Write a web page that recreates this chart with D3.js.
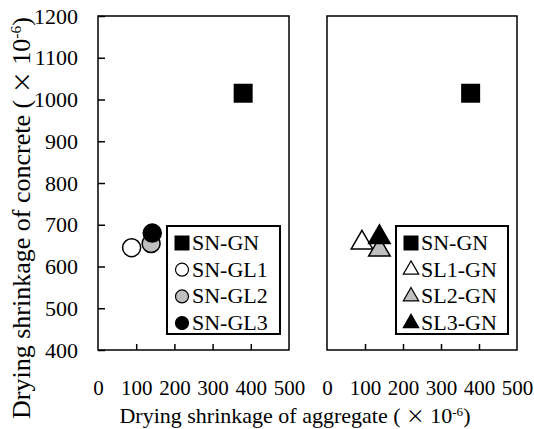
<!DOCTYPE html>
<html>
<head>
<meta charset="utf-8">
<script src="https://cdn.jsdelivr.net/npm/d3@7"></script>
<style>
  html, body { margin: 0; padding: 0; background: #fff; }
  svg { display: block; }
</style>
</head>
<body>
<svg id="chart" width="534" height="429"></svg>
<script>
// data
var xTicks = [0, 100, 200, 300, 400, 500],
    yTicks = [400, 500, 600, 700, 800, 900, 1000, 1100, 1200];

var leftNames = ['SN-GN', 'SN-GL1', 'SN-GL2', 'SN-GL3'],
    leftX = [380, 88, 139, 142],
    leftY = [1015, 645, 655, 680];

var rightNames = ['SN-GN', 'SL1-GN', 'SL2-GN', 'SL3-GN'],
    rightX = [378, 92, 138, 138],
    rightY = [1015, 657, 640, 670];

var SERIF = '"Liberation Serif", "Times New Roman", Times, serif';

var svg = d3.select('#chart'),
    plotTop = 16, plotBottom = 350;

var y = d3.scaleLinear().domain([400, 1200]).range([plotBottom, plotTop]);

// marker look per series
var leftStyle = [
  { shape: d3.symbolSquare, fill: '#000' },
  { shape: d3.symbolCircle, fill: '#fff' },
  { shape: d3.symbolCircle, fill: '#bfbfbf' },
  { shape: d3.symbolCircle, fill: '#000' }
];
var rightStyle = [
  { shape: d3.symbolSquare, fill: '#000' },
  { shape: d3.symbolTriangle, fill: '#fff' },
  { shape: d3.symbolTriangle, fill: '#bfbfbf' },
  { shape: d3.symbolTriangle, fill: '#000' }
];

function symSize(shape, s) {
  if (shape === d3.symbolSquare) return s * s;
  if (shape === d3.symbolCircle) return Math.PI * s * s / 4;
  return Math.sqrt(3) / 4 * s * s * 1.05;
}
function plotSide(shape) {
  return shape === d3.symbolSquare ? 19 : shape === d3.symbolCircle ? 18 : 21;
}
function legSide(shape) {
  return shape === d3.symbolSquare ? 15 : shape === d3.symbolCircle ? 13 : 15;
}

function panel(x0, x1, names, xs, ys, styles, leg) {
  var x = d3.scaleLinear().domain([0, 500]).range([x0, x1]);
  var g = svg.append('g');

  // x axis, ticks pointing in
  var xa = g.append('g')
    .attr('transform', 'translate(0,' + plotBottom + ')')
    .call(d3.axisBottom(x).tickValues(xTicks).tickFormat(d3.format('d'))
      .tickSizeInner(-6).tickSizeOuter(0).tickPadding(30));
  xa.select('.domain').remove();
  xa.selectAll('.tick line').attr('stroke', '#000').attr('stroke-width', 1.5)
    .filter(function(d) { return d === 0 || d === 500; }).remove();
  xa.selectAll('.tick text')
    .attr('fill', '#000').attr('font-family', SERIF).attr('font-size', 21);

  // frame
  g.append('rect')
    .attr('x', x0).attr('y', plotTop)
    .attr('width', x1 - x0).attr('height', plotBottom - plotTop)
    .attr('fill', 'none').attr('stroke', '#000').attr('stroke-width', 1.5);

  // points
  names.forEach(function(n, i) {
    var st = styles[i];
    g.append('path')
      .attr('d', d3.symbol().type(st.shape).size(symSize(st.shape, plotSide(st.shape)))())
      .attr('transform', 'translate(' + x(xs[i]) + ',' + y(ys[i]) + ')')
      .attr('fill', st.fill)
      .attr('stroke', st.shape === d3.symbolSquare ? 'none' : '#000')
      .attr('stroke-width', 1.5);
  });

  // legend
  var lg = g.append('g');
  lg.append('rect')
    .attr('x', leg.x).attr('y', leg.y)
    .attr('width', leg.w).attr('height', leg.h)
    .attr('fill', '#fff').attr('stroke', '#000').attr('stroke-width', 2);
  names.forEach(function(n, i) {
    var st = styles[i],
        base = leg.y + 24 + i * 26.7;
    lg.append('path')
      .attr('d', d3.symbol().type(st.shape).size(symSize(st.shape, legSide(st.shape)))())
      .attr('transform', 'translate(' + (leg.x + 15) + ',' + (base - 7) + ')')
      .attr('fill', st.fill)
      .attr('stroke', st.shape === d3.symbolSquare ? 'none' : '#000')
      .attr('stroke-width', 1.2);
    lg.append('text')
      .attr('x', leg.x + 25).attr('y', base)
      .attr('font-family', SERIF)
      .attr('font-size', 22)
      .text(n);
  });
  return x;
}

panel(98, 289, leftNames, leftX, leftY, leftStyle, { x: 167, y: 226, w: 113, h: 108 });
panel(327, 517, rightNames, rightX, rightY, rightStyle, { x: 396, y: 226, w: 112, h: 108 });

// y axis on the left panel only
var ya = svg.append('g')
  .attr('transform', 'translate(98,0)')
  .call(d3.axisLeft(y).tickValues(yTicks).tickFormat(d3.format('d'))
    .tickSizeInner(-7).tickSizeOuter(0).tickPadding(20));
ya.select('.domain').remove();
ya.selectAll('.tick line').attr('stroke', '#000').attr('stroke-width', 1.5);
ya.selectAll('.tick text')
  .attr('fill', '#000').attr('font-family', SERIF).attr('font-size', 22);

// axis titles
function title(sel, label) {
  sel.append('tspan').text(label + '( ');
  sel.append('tspan').attr('font-family', '"Noto Sans CJK JP", sans-serif').attr('font-size', '0.85em').text('×');
  sel.append('tspan').text(' 10');
  sel.append('tspan').attr('font-size', '0.6em').attr('dy', '-0.55em').text('-6');
  sel.append('tspan').attr('dy', '0.33em').text(')');
}

var yt = svg.append('text')
  .attr('transform', 'translate(30,218) rotate(-90)')
  .attr('text-anchor', 'middle')
  .attr('font-family', SERIF)
  .attr('font-size', 26);
title(yt, 'Drying shrinkage of concrete ');

var xt = svg.append('text')
  .attr('x', 295).attr('y', 423)
  .attr('text-anchor', 'middle')
  .attr('font-family', SERIF)
  .attr('font-size', 22);
title(xt, 'Drying shrinkage of aggregate ');
</script>
</body>
</html>
